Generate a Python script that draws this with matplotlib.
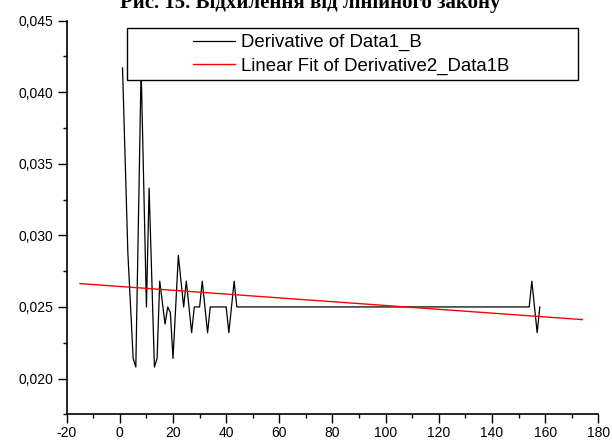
import numpy as np
import matplotlib
matplotlib.use('Agg')
import matplotlib.pyplot as plt
from matplotlib.ticker import MultipleLocator, FuncFormatter
from matplotlib.patches import Rectangle

# Values
deriv_x = [1, 3, 5, 6, 8, 10, 11, 13, 14, 15, 17, 18, 19, 20, 22, 24, 25,
           27, 28, 30, 31, 33, 34, 40, 41, 43, 44, 154, 155, 157, 158]
deriv_y = [0.0417, 0.0288, 0.0214, 0.0208, 0.0417, 0.0250, 0.0333, 0.0208,
           0.0214, 0.0268, 0.0238, 0.0250, 0.0246, 0.0214, 0.0286, 0.0250,
           0.0268, 0.0232, 0.0250, 0.0250, 0.0268, 0.0232, 0.0250, 0.0250,
           0.0232, 0.0268, 0.0250, 0.0250, 0.0268, 0.0232, 0.0250]

# linear fit: y = a + b*x over the drawn range
fit_x = [-15, 174]
fit_a = 0.02643
fit_b = -1.33e-5

title = 'Рис. 15. Відхилення від лінійного закону'
label_deriv = 'Derivative of Data1_B'
label_fit = 'Linear Fit of Derivative2_Data1B'

plt.rcParams['font.family'] = ['Liberation Sans', 'DejaVu Sans']

fig = plt.figure(figsize=(6.12, 4.42), dpi=100)
ax = fig.add_axes([0.109, 0.0627, 0.8686, 0.8905])

line1, = ax.plot(deriv_x, deriv_y, color='black', linewidth=0.9, zorder=2)
fx = np.array(fit_x, dtype=float)
line2, = ax.plot(fx, fit_a + fit_b * fx, color='red', linewidth=1.0, zorder=3)

ax.set_xlim(-20, 180)
ax.set_ylim(0.0175, 0.045)

ax.spines['top'].set_visible(False)
ax.spines['right'].set_visible(False)
ax.spines['left'].set_linewidth(1.2)
ax.spines['bottom'].set_linewidth(1.2)

ax.xaxis.set_major_locator(MultipleLocator(20))
ax.xaxis.set_minor_locator(MultipleLocator(10))
ax.yaxis.set_major_locator(MultipleLocator(0.005))
ax.yaxis.set_minor_locator(MultipleLocator(0.0025))
ax.yaxis.set_major_formatter(FuncFormatter(lambda v, p: f'{v:.3f}'.replace('.', ',')))
ax.xaxis.set_major_formatter(FuncFormatter(lambda v, p: f'{v:.0f}'))

ax.tick_params(axis='both', which='major', direction='out', length=6.5, width=1.0,
               labelsize=10)
ax.tick_params(axis='x', which='major', pad=2)
ax.tick_params(axis='y', which='major', pad=3)
ax.tick_params(axis='both', which='minor', direction='out', length=3, width=1.0)

# Origin-style legend box: wide white frame, entries indented
box = Rectangle((126.7 / 612, 1 - 80 / 442), (578.3 - 126.7) / 612, (80 - 28.3) / 442,
                transform=fig.transFigure, facecolor='white', edgecolor='black',
                linewidth=1.0, zorder=5)
ax.add_patch(box)
box.set_clip_on(False)

leg = fig.legend([line1, line2], [label_deriv, label_fit],
                 loc='upper left', bbox_to_anchor=(193.3 / 612, 1 - 34 / 442),
                 frameon=False, fontsize=13.4, handlelength=2.25,
                 handletextpad=0.3, labelspacing=0.33, borderpad=0,
                 borderaxespad=0)
leg.set_zorder(6)

fig.text(0.507, 1 - 8 / 442, title, ha='center', va='baseline',
         fontsize=15, fontweight='bold', family=['Liberation Serif', 'DejaVu Serif'])

plt.savefig('out.png', dpi=100)
